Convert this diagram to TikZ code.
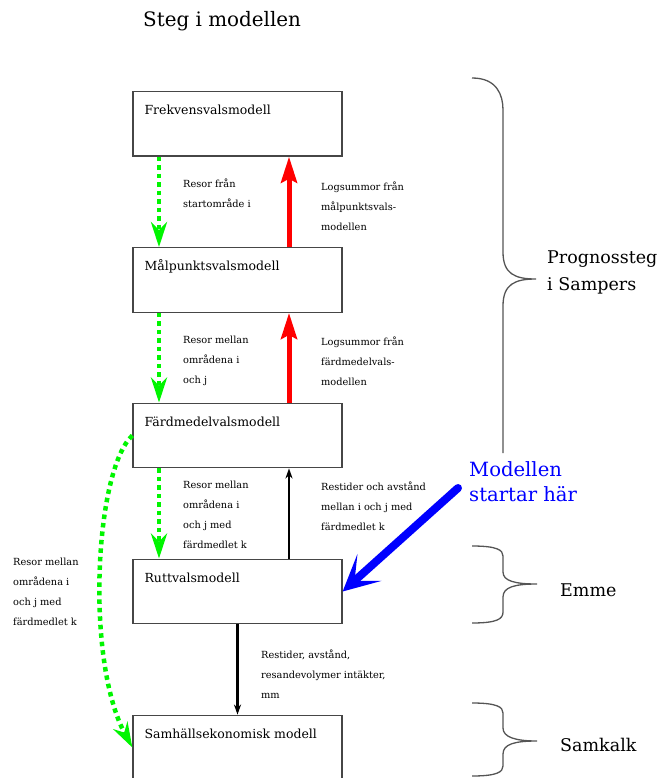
\documentclass[tikz,border=0pt]{standalone}
\usepackage{fontspec}
\setmainfont{DejaVu Serif}
\usetikzlibrary{arrows.meta}
\definecolor{flowgreen}{RGB}{0,245,0}
\definecolor{boxgray}{RGB}{70,70,70}
\definecolor{bracegray}{RGB}{85,85,85}
\definecolor{startblue}{RGB}{0,0,255}

\begin{document}
\begin{tikzpicture}[x=1pt,y=-1pt,
  model/.style={draw=boxgray, line width=1.3pt, fill=white,
    minimum width=209pt, minimum height=64.5pt, inner sep=0pt},
  boxtitle/.style={anchor=base west, inner sep=0pt, font=\fontsize{12.5}{15}\selectfont},
  lbl/.style={anchor=north west, inner sep=0pt, align=left,
    font=\fontsize{9.8}{20}\selectfont, execute at begin node={\rule{0pt}{12pt}}},
  biglbl/.style={anchor=north west, inner sep=0pt, align=left,
    font=\fontsize{17.5}{27}\selectfont, execute at begin node={\rule{0pt}{20pt}}},
  greendot/.style={draw=flowgreen, line width=4.5pt, dash pattern=on 4.5pt off 4pt,
    -{Stealth[length=25pt,width=16pt,inset=8pt,fill=flowgreen]}},
  redup/.style={draw=red, line width=5pt, -{Stealth[length=26pt,width=16pt,inset=4pt]}},
  blackarrow/.style={draw=black, line width=2.2pt, -{Stealth[length=10pt,width=7pt,inset=3pt]}},
  bluearrow/.style={draw=startblue, line width=8pt, line cap=round,
    -{Stealth[length=36pt,width=36pt,inset=20pt]}},
  bracepath/.style={draw=bracegray, line width=1.3pt},
]
\useasboundingbox (0,0) rectangle (658,778);
\clip (0,0) rectangle (658,778);

% heading
\node[anchor=base west, inner sep=0pt, font=\fontsize{19.9}{24}\selectfont] (heading) at (143,26.7) {Steg i modellen};

% model boxes
\node[model] (freq) at (237.5,123.8) {};
\node[model] (malp) at (237.5,280) {};
\node[model] (fard) at (237.5,435.5) {};
\node[model] (rutt) at (237.5,591.5) {};
\node[model] (samh) at (237.5,747.5) {};

\node[boxtitle] (freqT) at ([shift={(12,23.5)}]freq.north west) {Frekvensvalsmodell};
\node[boxtitle] (malpT) at ([shift={(12,23.5)}]malp.north west) {Målpunktsvalsmodell};
\node[boxtitle] (fardT) at ([shift={(12,23.5)}]fard.north west) {Färdmedelvalsmodell};
\node[boxtitle] (ruttT) at ([shift={(12,23.5)}]rutt.north west) {Ruttvalsmodell};
\node[boxtitle] (samhT) at ([shift={(12,23.5)}]samh.north west) {Samhällsekonomisk modell};

% flows between the models
\draw[greendot] ([xshift=-78.5pt]freq.south) -- ([xshift=-78.5pt]malp.north);
\draw[greendot] ([xshift=-78.5pt]malp.south) -- ([xshift=-78.5pt]fard.north);
\draw[greendot] ([xshift=-78.5pt]fard.south) -- ([xshift=-78.5pt]rutt.north);
\draw[greendot] (fard.west) .. controls (95,470) and (85,660) .. (samh.west);

\draw[redup] ([xshift=51.5pt]malp.north) -- ([xshift=51.5pt]freq.south);
\draw[redup] ([xshift=51.5pt]fard.north) -- ([xshift=51.5pt]malp.south);

\draw[blackarrow] ([xshift=51.5pt]rutt.north) -- ([xshift=51.5pt]fard.south);
\draw[blackarrow] (rutt.south) -- (samh.north);

% flow labels
\node[lbl] (l1) at (183,178.7) {Resor från\\startområde i};
\node[lbl] (l2) at (321,182) {Logsummor från\\målpunktsvals-\\modellen};
\node[lbl] (l3) at (183,336.3) {Resor mellan\\områdena i\\och j};
\node[lbl] (l4) at (321,336.3) {Logsummor från\\färdmedelvals-\\modellen};
\node[lbl] (l5) at (183,481.3) {Resor mellan\\områdena i\\och j med\\färdmedlet k};
\node[lbl] (l6) at (321,481.3) {Restider och avstånd\\mellan i och j med\\färdmedlet k};
\node[lbl] (l7) at (13,558) {Resor mellan\\områdena i\\och j med\\färdmedlet k};
\node[lbl] (l8) at (261,649.7) {Restider, avstånd,\\resandevolymer intäkter,\\mm};

% starting point
\node[anchor=north west, inner sep=0pt, align=left, text=startblue,
  font=\fontsize{19.6}{25}\selectfont, execute at begin node={\rule{0pt}{20pt}}]
  (start) at (469,461.7) {Modellen\\startar här};
\coordinate (startfrom) at (458,488);
\draw[bluearrow] (startfrom) -- (rutt.east);

% braces grouping the steps
\draw[bracepath] (472,78) .. controls (497,78) and (503,95) .. (503,110)
  -- (503,252) .. controls (503,274) and (515,279) .. (536,279)
  .. controls (515,279) and (503,284) .. (503,306) -- (503,453);
\draw[bracepath] (472,546) .. controls (497,546) and (503,550) .. (503,556)
  -- (503,572) .. controls (503,581) and (515,584) .. (537,584)
  .. controls (515,584) and (503,587) .. (503,597) -- (503,612)
  .. controls (503,619) and (497,623) .. (472,623);
\draw[bracepath] (472,703) .. controls (497,703) and (503,707) .. (503,713)
  -- (503,728) .. controls (503,737) and (515,741) .. (537,741)
  .. controls (515,741) and (503,744) .. (503,754) -- (503,766)
  .. controls (503,772) and (497,776) .. (472,776);

\node[biglbl] (prog) at (547,250.5) {Prognossteg\\i Sampers};
\node[anchor=base west, inner sep=0pt, font=\fontsize{17.5}{21}\selectfont] (emme) at (560,596.7) {Emme};
\node[anchor=base west, inner sep=0pt, font=\fontsize{17.5}{21}\selectfont] (samkalk) at (560,751.7) {Samkalk};
\end{tikzpicture}
\end{document}
